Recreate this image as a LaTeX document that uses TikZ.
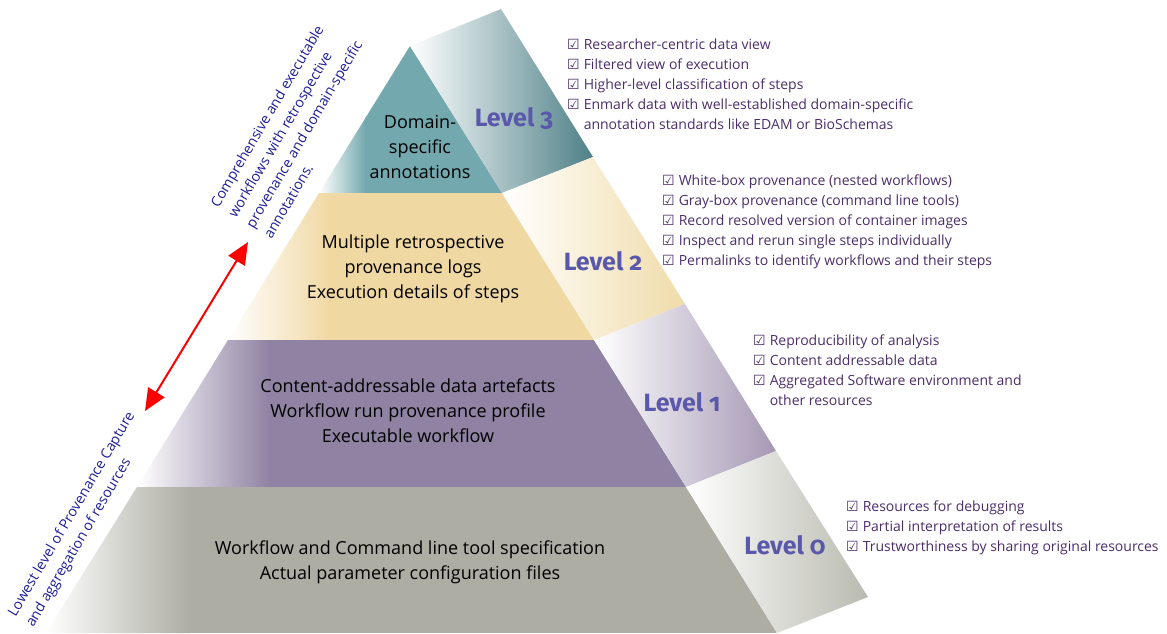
\documentclass[tikz,border=0pt]{standalone}
\usepackage{fontspec}
\setmainfont{Open Sans}
\newfontfamily\levelfont[Numbers=OldStyle]{Fira Sans}
\newfontfamily\symfont{DejaVu Sans}
\usetikzlibrary{arrows.meta}

\definecolor{tealfront}{HTML}{72A8AE}
\definecolor{tealside}{HTML}{4E8087}
\definecolor{tanfront}{HTML}{F0D8A3}
\definecolor{tanside}{HTML}{F0DCAA}
\definecolor{purplefront}{HTML}{8F82A3}
\definecolor{purpleside}{HTML}{A598B4}
\definecolor{greyfront}{HTML}{ADADA3}
\definecolor{greyside}{HTML}{B9BAAF}
\definecolor{levelblue}{HTML}{5A58AA}
\definecolor{checkpurple}{HTML}{4B2D69}
\definecolor{navy}{HTML}{1E1E96}

\newcommand{\chk}{{\symfont\char"2611}\hspace{4pt}}
\newcommand{\nochk}{\phantom{\chk}}

\tikzset{
  facetext/.style={align=center, inner sep=0pt, text=black, font=\fontsize{18}{25}\selectfont},
  levellabel/.style={inner sep=0pt, text=levelblue, font=\levelfont\bfseries\fontsize{25}{30}\selectfont},
  checklist/.style={align=left, anchor=north west, inner sep=0pt, text=checkpurple, font=\fontsize{14}{20}\selectfont},
  sidenote/.style={align=left, anchor=north west, inner sep=0pt, rotate=59.5, text=navy, font=\fontsize{14.2}{20.5}\selectfont},
  twoway/.style={red, line width=2pt, {Triangle[length=22pt,width=19pt]}-{Triangle[length=22pt,width=19pt]}}
}

\begin{document}
\begin{tikzpicture}[x=1pt, y=-1pt]
\useasboundingbox (0,0) rectangle (1167,633);

\coordinate (apex) at (410,46);
\coordinate (a3l) at (319,193);
\coordinate (a3r) at (502,193);
\coordinate (a2l) at (228,340);
\coordinate (a2r) at (594,340);
\coordinate (a1l) at (137,487);
\coordinate (a1r) at (686,487);
\coordinate (a0l) at (46,633);
\coordinate (a0r) at (777,633);
\coordinate (b4) at (501,9);
\coordinate (b3) at (593,157);
\coordinate (b2) at (685,304);
\coordinate (b1) at (776,451);
\coordinate (b0) at (868,597);

% front face
\begin{scope}
\clip (apex) -- (a3l) -- (a3r) -- cycle;
\shade[left color=white, right color=tealfront] (319,40) rectangle (366,193);
\fill[tealfront] (365,40) rectangle (502,193);
\end{scope}
\begin{scope}
\clip (a3l) -- (a2l) -- (a2r) -- (a3r) -- cycle;
\shade[left color=white, right color=tanfront] (228,193) rectangle (330,340);
\fill[tanfront] (329,193) rectangle (594,340);
\end{scope}
\begin{scope}
\clip (a2l) -- (a1l) -- (a1r) -- (a2r) -- cycle;
\shade[left color=white, right color=purplefront] (137,340) rectangle (270,487);
\fill[purplefront] (269,340) rectangle (686,487);
\end{scope}
\begin{scope}
\clip (a1l) -- (a0l) -- (a0r) -- (a1r) -- cycle;
\shade[left color=white, right color=greyfront] (46,487) rectangle (190,633);
\fill[greyfront] (189,487) rectangle (777,633);
\end{scope}

% side face
\shade[left color=white, right color=tealside] (apex) -- (b4) -- (b3) -- (a3r) -- cycle;
\shade[left color=white, right color=tanside] (a3r) -- (b3) -- (b2) -- (a2r) -- cycle;
\shade[left color=white, right color=purpleside] (a2r) -- (b2) -- (b1) -- (a1r) -- cycle;
\shade[left color=white, right color=greyside] (a1r) -- (b1) -- (b0) -- (a0r) -- cycle;

\node[facetext] (t3) at (420,147) {Domain-\\specific\\annotations};
\node[facetext] (t2) at (413,269) {Multiple retrospective\\provenance logs\\Execution details of steps};
\node[facetext] (t1) at (408,411) {Content-addressable data artefacts\\Workflow run provenance profile\\Executable workflow};
\node[facetext] (t0) at (410,562) {Workflow and Command line tool specification\\Actual parameter configuration files};

\node[levellabel] (l3) at (514,119) {Level 3};
\node[levellabel] (l2) at (603,261) {Level 2};
\node[levellabel] (l1) at (682,402) {Level 1};
\node[levellabel] (l0) at (785,545) {Level 0};

\node[checklist] (c3) at (567,39) {\chk Researcher-centric data view\\
  \chk Filtered view of execution\\
  \chk Higher-level classification of steps\\
  \chk Enmark data with well-established domain-specific\\
  \nochk annotation standards like EDAM or BioSchemas};
\node[checklist] (c2) at (662,175) {\chk White-box provenance (nested workflows)\\
  \chk Gray-box provenance (command line tools)\\
  \chk Record resolved version of container images\\
  \chk Inspect and rerun single steps individually\\
  \chk Permalinks to identify workflows and their steps};
\node[checklist] (c1) at (753,335) {\chk Reproducibility of analysis\\
  \chk Content addressable data\\
  \chk Aggregated Software environment and\\
  \nochk other resources};
\node[checklist] (c0) at (846,501) {\chk Resources for debugging\\
  \chk Partial interpretation of results\\
  \chk Trustworthiness by sharing original resources};

\node[sidenote] (topnote) at (209,203) {Comprehensive and executable\\workflows with retrospective\\provenance and domain-specific\\annotations.};
\node[sidenote] (lownote) at (6,612) {Lowest level of Provenance Capture\\and aggregation of resources};

\coordinate (lowtip) at (145,411);
\coordinate (hightip) at (248,242);
\draw[twoway] (lowtip) -- (hightip);
\end{tikzpicture}
\end{document}
